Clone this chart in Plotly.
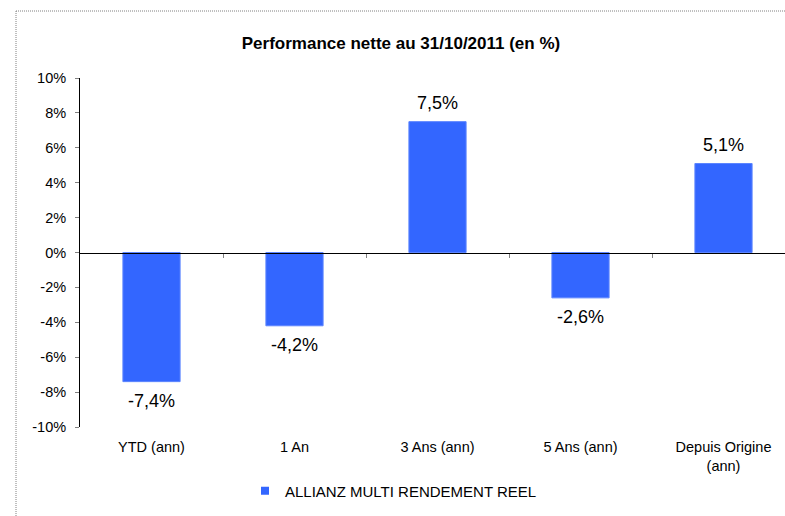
import plotly.graph_objects as go

categories = ["YTD (ann)", "1 An", "3 Ans (ann)", "5 Ans (ann)", "Depuis Origine<br>(ann)"]
values = [-7.4, -4.2, 7.5, -2.6, 5.1]
series_name = "ALLIANZ MULTI RENDEMENT REEL"
ytick_vals = [-10, -8, -6, -4, -2, 0, 2, 4, 6, 8, 10]
ytick_text = [f"{v}%" for v in ytick_vals]
labels = [f"{v:.1f}%".replace(".", ",") for v in values]

W, H = 785, 516
L, R, T, B = 80, 0, 78, 89
pw = W - L - R
ph = H - T - B
cat_px = 143.0
xr = [-0.5, -0.5 + pw / cat_px]

FONT = "Liberation Sans, Arial, sans-serif"
BLUE = "#3366FF"

fig = go.Figure()
fig.add_trace(go.Bar(
    x=list(range(len(categories))), y=values, name=series_name,
    marker=dict(color=BLUE, line=dict(color="#5C85FF", width=1)),
    width=0.4, showlegend=False, xaxis="x", yaxis="y",
))
# legend entry with a small square symbol
fig.add_trace(go.Scatter(x=[None], y=[None], mode="markers", name=series_name,
                         marker=dict(symbol="square", size=8, color=BLUE),
                         showlegend=True, xaxis="x", yaxis="y"))
# zero-axis helper (invisible) for the axis drawn at y = 0
fig.add_trace(go.Scatter(x=[0], y=[0], mode="markers", marker=dict(opacity=0),
                         showlegend=False, hoverinfo="skip", xaxis="x2", yaxis="y"))

for i, (v, t) in enumerate(zip(values, labels)):
    fig.add_annotation(x=i, y=v, text=t, showarrow=False, xref="x", yref="y",
                       yanchor="bottom" if v >= 0 else "top",
                       yshift=7 if v >= 0 else -7,
                       font=dict(family=FONT, size=18, color="#000000"))

fig.update_layout(
    width=W, height=H,
    margin=dict(l=L, r=R, t=T, b=B, autoexpand=False),
    paper_bgcolor="white", plot_bgcolor="white",
    font=dict(family=FONT, size=14, color="#000000"),
    title=dict(text="<b>Performance nette au 31/10/2011 (en %)</b>",
               x=401 / W, xref="container", xanchor="center",
               y=1 - 43 / H, yref="container", yanchor="middle",
               font=dict(family=FONT, size=17, color="#000000")),
    xaxis=dict(range=xr, tickvals=list(range(len(categories))), ticktext=categories,
               showline=False, showgrid=False, zeroline=False,
               ticks="outside", ticklen=7, tickcolor="rgba(0,0,0,0)",
               tickfont=dict(family=FONT, size=14.5, color="#000000")),
    xaxis2=dict(range=xr, overlaying="x", anchor="free", position=0.5, side="bottom",
                showline=True, linecolor="#000000", linewidth=1,
                tickvals=[i + 0.5 for i in range(len(categories) - 1)],
                ticks="outside", ticklen=4, tickcolor="#808080",
                showticklabels=False, showgrid=False, zeroline=False),
    yaxis=dict(range=[-10, 10], tickvals=ytick_vals, ticktext=ytick_text,
               showline=True, linecolor="#000000", linewidth=1,
               ticks="outside", ticklen=4, tickcolor="#808080",
               ticklabelstandoff=6,
               showgrid=False, zeroline=False,
               tickfont=dict(family=FONT, size=14.5, color="#000000")),
    legend=dict(orientation="h", x=245 / W, xanchor="left", xref="container",
                y=1 - 491 / H, yref="container", yanchor="middle",
                font=dict(family=FONT, size=15, color="#000000"),
                traceorder="normal"),
)

# outer dotted frame (top and left edges visible)
x0 = (16 - L) / pw
y1 = (H - B - 11) / ph
fig.add_shape(type="line", xref="paper", yref="paper", x0=x0, x1=x0, y0=-1, y1=y1,
              line=dict(color="#808080", width=1, dash="1px,1px"))
fig.add_shape(type="line", xref="paper", yref="paper", x0=x0, x1=1.2, y0=y1, y1=y1,
              line=dict(color="#808080", width=1, dash="1px,1px"))

fig.write_html("out.html", config={"displayModeBar": False},
               post_script="document.body.style.margin='0';")
